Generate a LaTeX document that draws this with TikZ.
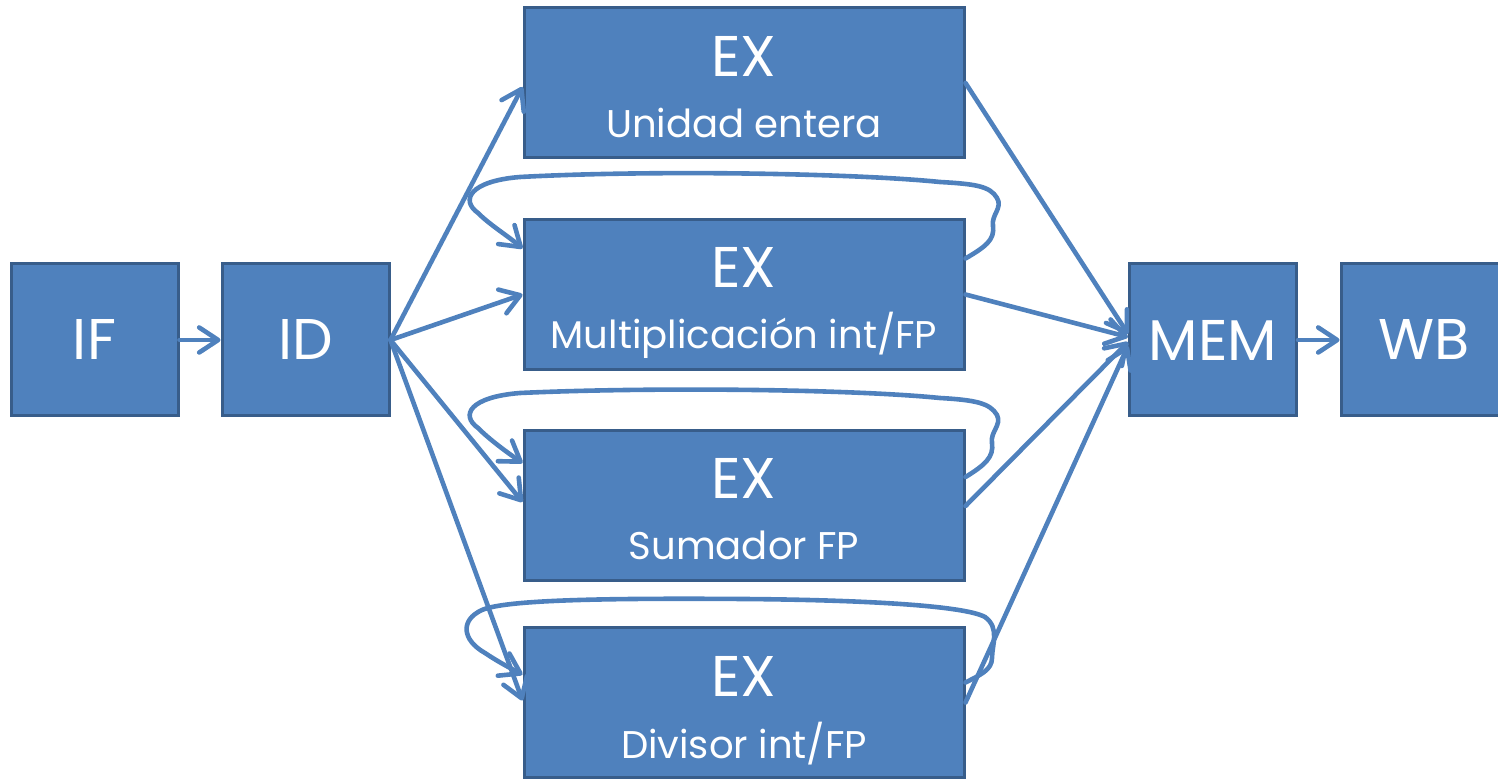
\documentclass[tikz,border=0pt]{standalone}
\usepackage{fontspec}
\setmainfont{Poppins}
\usetikzlibrary{arrows.meta,calc}
\definecolor{boxfill}{HTML}{4F81BD}
\definecolor{boxline}{HTML}{385D8A}
\definecolor{connc}{HTML}{4F81BD}
\begin{document}
\begin{tikzpicture}[x=0.5pt,y=-0.5pt,
  stage/.style={draw=boxline, line width=1.5pt, fill=boxfill, text=white,
    minimum width=83.5pt, minimum height=76pt, inner sep=0pt,
    font=\fontsize{28.7}{30}\selectfont},
  exbox/.style={stage, minimum width=220pt, minimum height=75pt},
  bigt/.style={text=white, inner sep=0pt, anchor=base, font=\fontsize{28.7}{30}\selectfont},
  smallt/.style={text=white, inner sep=0pt, anchor=base, font=\fontsize{19.3}{21}\selectfont},
  conn/.style={draw=connc, line width=2.3pt, line cap=round, line join=round,
    -{Straight Barb[length=9.5pt,width=12.5pt,line cap=round,line join=round]}}
]
\useasboundingbox (0,0) rectangle (1498,779);

\node[stage] (if) at (94.5,340) {IF};
\node[stage] (id) at (305.5,340) {ID};
\node[stage] (mem) at (1213,340) {MEM};
\node[stage] (wb) at (1424.5,340) {WB};

\node[exbox] (ex1) at (744,83) {};
\node[exbox] (ex2) at (744,294.5) {};
\node[exbox] (ex3) at (744,506) {};
\node[exbox] (ex4) at (744,702.5) {};

\node[bigt] (ex1t) at (744,77) {EX};
\node[smallt] (ex1s) at (744,138) {Unidad entera};
\node[bigt] (ex2t) at (744,288) {EX};
\node[smallt] (ex2s) at (744,349) {Multiplicación int/FP};
\node[bigt] (ex3t) at (744,499) {EX};
\node[smallt] (ex3s) at (744,560) {Sumador FP};
\node[bigt] (ex4t) at (744,697) {EX};
\node[smallt] (ex4s) at (744,758) {Divisor int/FP};

% pipeline arrows
\draw[conn] (if.east) -- (id.west);
\draw[conn] (mem.east) -- (wb.west);

\draw[conn] (id.east) -- ([yshift=-2pt]ex1.west);
\draw[conn] (id.east) -- (ex2.west);
\draw[conn] (id.east) -- ([yshift=2pt]ex3.west);
\draw[conn] (id.east) -- ([yshift=1pt]ex4.west);

\draw[conn] (ex1.east) -- ([yshift=3pt]mem.west);
\draw[conn] (ex2.east) -- ([yshift=1.5pt]mem.west);
\draw[conn] (ex3.east) -- ([yshift=-1pt]mem.west);
\draw[conn] (ex4.east) -- ([yshift=-3pt]mem.west);

% recirculation loops
\draw[conn] ([yshift=18pt]ex2.east)
  .. controls (985,247) and (995,240) .. (993,226)
  .. controls (991,215) and (1003,208) .. (997,198)
  .. controls (990,186) and (975,184) .. (940,182)
  .. controls (850,173) and (650,170) .. (520,177)
  .. controls (470,181) and (460,200) .. (478,213)
  .. controls (490,225) and (508,236) .. ([yshift=23pt]ex2.west);

\draw[conn] ([yshift=14.5pt]ex3.east)
  .. controls (985,465) and (994,457) .. (992,443)
  .. controls (990,432) and (1002,425) .. (997,415)
  .. controls (990,403) and (975,400) .. (940,398)
  .. controls (850,389) and (650,387) .. (520,393)
  .. controls (470,397) and (460,415) .. (478,428)
  .. controls (490,440) and (508,453) .. ([yshift=21.5pt]ex3.west);

\draw[conn] ([yshift=10pt]ex4.east)
  .. controls (980,675) and (992,670) .. (992,658)
  .. controls (992,645) and (1000,628) .. (985,617)
  .. controls (965,606) and (870,600) .. (744,599)
  .. controls (600,598) and (505,600) .. (482,610)
  .. controls (460,620) and (462,640) .. (485,653)
  .. controls (500,663) and (512,669) .. ([yshift=14pt]ex4.west);
\end{tikzpicture}
\end{document}
